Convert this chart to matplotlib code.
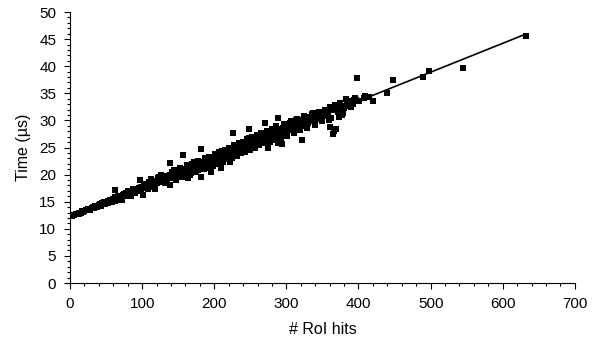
import numpy as np
import matplotlib
matplotlib.use("Agg")
import matplotlib.pyplot as plt
from matplotlib.ticker import MultipleLocator

# RoI hits vs processing time
hits = [
    1, 3, 5, 6, 8, 10, 12, 13, 15, 17, 18, 20, 22, 23, 25, 27, 28, 30, 32, 33,
    35, 37, 38, 40, 42, 43, 45, 47, 48, 50, 52, 53, 55, 57, 58, 60,
    62, 62, 63, 65, 66, 68, 70, 71, 72, 74, 75, 77, 78, 80, 81, 83, 84, 86,
    87, 89, 90, 92, 93, 95, 96, 97, 98, 99, 101, 102, 104, 105, 107, 108,
    110, 111, 113, 114, 116, 117, 119, 120,
    121, 122, 124, 125, 127, 128, 130, 131, 133, 134, 136, 137, 138, 138,
    139, 140, 142, 143, 145, 146, 148, 149, 151, 152, 154, 155, 156, 157,
    158, 160, 161, 163, 164, 165, 167, 168, 170, 171, 173, 174, 176, 177,
    179, 180, 181, 182, 183, 185, 186, 188, 189, 191, 192, 194, 195, 196,
    197, 199, 200,
    202, 203, 205, 206, 208, 209, 210, 211, 213, 214, 216, 217, 219, 220,
    222, 223, 225, 226, 227, 229, 230, 232, 233, 235, 236, 238, 239, 241,
    242, 244, 245, 247, 248, 249, 251, 252, 254, 255, 257, 258, 260, 261,
    263, 264, 266, 267, 269, 270, 271, 272, 274, 275, 276, 278, 279, 281,
    282, 284, 285, 287, 288, 289, 290, 291, 293, 294, 295, 296, 298, 299, 300,
    302, 304, 305, 307, 309, 311, 313, 314, 316, 318, 320, 321, 322, 324,
    326, 328, 330, 332, 334, 336, 338, 340, 342, 344, 347, 349, 351, 354,
    356, 358, 360, 361, 362, 365, 366, 369, 371, 373, 374, 377, 379, 381,
    384, 386, 388, 391, 393, 396, 398, 401,
    408, 409, 415, 420, 440, 448, 489, 498, 545, 632,
    # outer edges of the band
    112, 118, 126, 132, 141, 147, 153, 159, 162, 166, 172, 175, 178, 184,
    187, 190, 193, 198, 201, 204, 207, 212, 215, 218, 221, 224, 228, 231,
    234, 237, 240, 243, 246, 250, 253, 256, 259, 262, 265, 268, 273, 277,
    280, 283, 286, 292, 297, 301, 306, 310, 315, 319, 325, 329, 335, 339,
    345, 350, 355, 359, 368, 376, 383, 390, 395,
    # filling the core of the band
    103, 109, 115, 123, 129, 135, 144, 150, 156, 162, 169, 175, 181, 187,
    193, 199, 205, 211, 217, 222, 228, 233, 238, 243, 248, 253, 258, 263,
    268, 273, 278, 283, 288, 293, 298, 303, 308, 312, 317, 323, 327, 333,
    337, 343, 348, 353, 357, 364, 372, 380, 387, 394,
]
time_us = [
    12.3, 12.4, 12.5, 12.6, 12.7, 12.8, 12.9, 12.8, 13.0, 13.2, 13.1, 13.3,
    13.5, 13.4, 13.6, 13.7, 13.5, 13.9, 14.0, 13.8, 14.2, 14.3, 14.1, 14.4,
    14.6, 14.3, 14.7, 14.9, 14.6, 15.0, 15.1, 14.8, 15.3, 15.4, 15.0, 15.5,
    15.8, 17.2, 15.2, 15.6, 16.0, 15.9, 16.1, 15.4, 15.3, 16.2, 16.5, 16.0,
    16.6, 16.4, 17.0, 16.7, 16.1, 16.9, 17.3, 17.0, 16.6, 17.4, 17.2, 17.6,
    16.9, 19.0, 17.7, 17.4, 16.2, 17.9, 17.6, 18.2, 17.8, 17.4,
    18.3, 18.0, 18.5, 17.9, 18.6, 18.2, 18.8, 18.4,
    18.9, 19.3, 18.7, 19.0, 19.5, 18.9, 19.2, 19.7, 19.4, 19.0, 19.8, 19.5,
    18.1, 22.1, 20.0, 19.6, 19.3, 20.2, 19.9, 19.4, 20.4, 20.0, 19.6, 20.6,
    20.2, 19.8, 23.6, 20.8, 20.4, 20.0, 21.0, 20.6, 19.3, 21.2, 20.8, 20.3,
    21.4, 21.0, 20.6, 21.7, 21.2, 20.8, 21.8, 21.4, 24.7, 19.6, 22.0, 21.6,
    21.1, 22.2, 21.8, 21.3, 22.4, 22.0, 21.5, 20.5, 22.6, 22.2, 22.5,
    23.0, 22.5, 23.4, 22.9, 23.6, 22.4, 21.2, 23.8, 23.2, 24.2, 23.5, 22.8,
    24.0, 24.5, 22.4, 24.3, 23.6, 27.6, 24.7, 24.1, 25.0, 23.9, 24.6, 25.3,
    24.4, 25.1, 25.6, 24.5, 25.3, 25.9, 24.8, 25.5, 28.5, 26.1, 25.2, 25.8,
    26.4, 25.0, 26.0, 26.6, 25.4, 26.3, 26.9, 25.8, 26.5, 27.1, 26.0, 29.6,
    26.8, 27.3, 26.4, 24.9, 27.0, 27.6, 26.6, 27.3, 27.9, 26.9, 27.5, 28.2,
    30.4, 25.8, 27.2, 27.8, 28.5, 25.6, 28.6, 27.4, 28.1, 28.8, 27.6,
    28.4, 29.1, 29.5, 28.2, 28.8, 29.4, 28.6, 30.1, 29.2, 29.8, 28.9, 26.3,
    30.0, 29.5, 30.2, 30.4, 29.6, 30.1, 30.7, 29.8, 30.5, 31.0, 30.2, 30.8,
    31.4, 30.6, 31.2, 31.7, 30.9, 31.6, 32.5, 28.8, 30.4, 27.5, 28.1, 28.4,
    32.2, 30.7, 33.2, 31.0, 31.3, 32.6, 33.0, 33.5, 32.8, 33.4, 33.1, 33.8,
    37.8, 33.6,
    34.1, 34.5, 34.3, 33.6, 35.0, 37.5, 38.1, 39.1, 39.7, 45.6,
    19.2, 17.3, 20.0, 18.4, 20.5, 19.0, 21.3, 19.6, 21.8, 20.0, 22.4, 20.5,
    22.6, 21.0, 23.0, 21.4, 23.3, 21.6, 23.8, 22.0, 24.2, 22.3, 24.6, 23.0,
    25.0, 23.1, 25.4, 23.5, 25.8, 24.0, 26.1, 24.2, 26.5, 24.6, 26.9, 25.0,
    27.3, 25.4, 27.6, 25.8, 28.1, 26.0, 28.5, 26.4, 28.9, 26.8, 29.3, 27.2,
    29.8, 27.6, 30.3, 28.2, 30.8, 28.6, 31.2, 29.2, 31.6, 29.8, 32.0, 30.0,
    32.8, 32.0, 34.0, 32.4, 34.2,
    18.0, 18.6, 17.8, 19.6, 18.6, 19.3, 20.9, 20.8, 20.9, 20.4, 21.9, 21.8,
    22.3, 22.2, 22.7, 23.2, 22.3, 24.3, 24.1, 23.5, 24.6, 25.5, 24.5, 25.0,
    26.7, 25.5, 25.9, 26.2, 27.4, 26.7, 27.0, 28.3, 27.6, 27.7, 29.2, 28.9,
    29.7, 28.9, 30.0, 29.8, 30.6, 30.3, 31.4, 31.2, 30.9, 32.0, 31.3, 31.9,
    31.5, 32.2, 33.0, 33.7,
]

x = np.array(hits, dtype=float)
y = np.array(time_us)

plt.rcParams['font.family'] = ['Liberation Sans', 'DejaVu Sans']

fig = plt.figure(figsize=(6.01, 3.47), dpi=100)
ax = fig.add_axes([0.1165, 0.1844, 0.84, 0.781])

ax.plot(x, y, 's', color='black', markersize=3.9, markeredgewidth=0,
        antialiased=False)

# linear trendline
slope, icept = np.polyfit(x, y, 1)
xs = np.array([0, x.max()])
ax.plot(xs, icept + slope * xs, color='black', linewidth=1.2)

ax.set_xlim(0, 700)
ax.set_ylim(0, 50)
ax.xaxis.set_major_locator(MultipleLocator(100))
ax.xaxis.set_minor_locator(MultipleLocator(20))
ax.yaxis.set_major_locator(MultipleLocator(5))
ax.yaxis.set_minor_locator(MultipleLocator(1))
ax.tick_params(which='major', direction='out', length=4, width=0.8,
               labelsize=11, pad=6)
ax.tick_params(which='minor', direction='out', length=2.5, width=0.8)

for s in ['top', 'right']:
    ax.spines[s].set_visible(False)
ax.spines['left'].set_linewidth(0.8)
ax.spines['bottom'].set_linewidth(0.8)

ax.set_xlabel('# RoI hits', fontsize=11.5, labelpad=8)
ax.set_ylabel('Time (µs)', fontsize=11.5, labelpad=6)

fig.savefig('out.png', dpi=100)
